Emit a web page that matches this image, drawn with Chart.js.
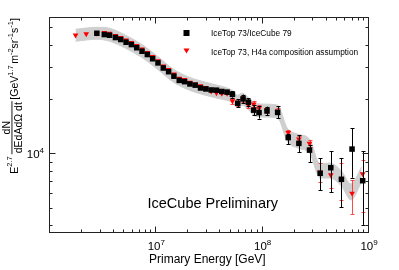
<!DOCTYPE html>
<html>
<head>
<meta charset="utf-8">
<script src="https://cdn.jsdelivr.net/npm/chart.js@4.4.1/dist/chart.umd.min.js"></script>
<style>
  html, body { margin: 0; padding: 0; background: #fff; }
  #wrap { width: 399px; height: 270px; }
</style>
</head>
<body>
<div id="wrap"><canvas id="myChart" width="399" height="270"></canvas></div>
<script>
	// IceTop 73/IceCube 79 : bin centres, log10(E/GeV)
	var binLogE = [6.45, 6.52, 6.57, 6.625, 6.675, 6.725, 6.775, 6.825, 6.875, 6.925,
		6.975, 7.025, 7.075, 7.125, 7.175, 7.225, 7.275, 7.325, 7.375, 7.425,
		7.475, 7.525, 7.575, 7.625, 7.675, 7.725, 7.775, 7.825, 7.875, 7.925,
		7.975, 8.05, 8.15, 8.25, 8.35, 8.45, 8.55, 8.65, 8.75, 8.85, 8.95];

	// E^2.7 flux, black squares
	var fluxIT73 = [46200, 45460, 45050, 43750, 42660, 41210, 40000, 38420, 36730, 35240,
		33400, 31670, 29680, 28310, 26730, 25340, 24930, 24210, 23850, 23010,
		22720, 22430, 22370, 22000, 21820, 21210, 18920, 20010, 19210, 17350,
		16810, 17170, 16850, 12230, 11360, 10420, 7757, 8327, 7185, 10560, 7057];
	var errUpIT73 = [0, 0, 0, 0, 0, 0, 0, 0, 0, 0, 0, 0, 0, 0, 0, 200, 200, 250, 250, 300,
		300, 300, 350, 350, 400, 880, 1030, 1120, 1000, 1130, 1450, 970, 1410, 550, 1210,
		690, 1620, 1970, 2200, 3180, 3240];
	var errDnIT73 = [0, 0, 0, 0, 0, 0, 0, 0, 0, 0, 0, 0, 0, 0, 0, 200, 200, 250, 250, 300,
		300, 300, 350, 350, 400, 870, 890, 1050, 950, 1070, 1240, 890, 1180, 970, 1230,
		1470, 1490, 2240, 2160, 3230, 3040];

	// IceTop 73, H4a composition assumption : red triangles
	var h4aLogE = [6.25, 6.35, 6.45, 6.52, 6.57, 6.625, 6.675, 6.725, 6.775, 6.825, 6.875,
		6.925, 6.975, 7.025, 7.075, 7.125, 7.175, 7.225, 7.275, 7.325, 7.375, 7.425,
		7.475, 7.525, 7.575, 7.625, 7.675, 7.725, 7.775, 7.825, 7.875, 7.925, 7.975,
		8.05, 8.15, 8.25, 8.35, 8.45, 8.55, 8.65, 8.75, 8.85, 8.95];
	var fluxH4a = [45040, 45800, 46200, 46620, 46200, 44870, 43750, 42270, 41050, 39410,
		37700, 36140, 34250, 32480, 30430, 29040, 27420, 25990, 25570, 24680, 24150,
		23630, 23090, 22090, 21620, 21450, 21450, 19530, 19130, 19950, 18480, 18720,
		17730, 17350, 17130, 13000, 12000, 11360, 7880, 7590, 7120, 6010, 7685];
	var errUpH4a = [0, 0, 0, 0, 0, 0, 0, 0, 0, 0, 0, 0, 0, 0, 0, 0, 0, 0, 0, 0, 0, 0, 0, 0, 0, 0, 0,
		770, 770, 750, 720, 780, 770, 650, 670, 450, 460, 480, 930, 840, 1720, 1110, 1495];
	var errDnH4a = [0, 0, 0, 0, 0, 0, 0, 0, 0, 0, 0, 0, 0, 0, 0, 0, 0, 0, 0, 0, 0, 0, 0, 0, 0, 0, 0,
		730, 730, 750, 680, 720, 730, 650, 630, 460, 460, 530, 910, 1180, 1600, 1390, 2925];

	// systematic band (grey)
	var bandLogE = [6.25, 6.45, 6.57, 6.72, 6.87, 7.02, 7.17, 7.32, 7.47, 7.62, 7.72, 7.77,
		7.82, 7.87, 7.94, 8.04, 8.15, 8.24, 8.34, 8.45, 8.55, 8.64, 8.75, 8.84, 8.94];
	var bandHi = [48610, 49870, 49240, 45040, 40180, 34480, 29230, 26390, 24770, 23540, 22370,
		20990, 21540, 20460, 18960, 18720, 18480, 13800, 12780, 12000, 8730, 8840, 7990, 6770, 8400];
	var bandLo = [41730, 42810, 41730, 38180, 34040, 29230, 24770, 22370, 20990, 19950, 19210,
		18030, 18480, 17570, 16070, 15870, 15670, 11690, 10700, 10040, 7300, 7300, 6600, 5520, 6940];

	// axes
	var xTicks = [1e6, 2e6, 3e6, 4e6, 5e6, 6e6, 7e6, 8e6, 9e6, 1e7, 2e7, 3e7, 4e7, 5e7, 6e7, 7e7,
		8e7, 9e7, 1e8, 2e8, 3e8, 4e8, 5e8, 6e8, 7e8, 8e8, 9e8, 1e9];
	var xMajor = [1e6, 1e7, 1e8, 1e9];
	var xLabels = [1e7, 1e8, 1e9];
	var xLabelExp = ['7', '8', '9'];
	var yTicks = [4000, 5000, 6000, 7000, 8000, 9000, 1e4, 2e4, 3e4, 4e4, 5e4];
	var yMajor = [1e4];
	var yLabels = [1e4];
	var yLabelExp = ['4'];

	var legendTexts = ['IceTop 73/IceCube 79', 'IceTop 73, H4a composition assumption'];

	var FONT = '"Liberation Sans", Arial, Helvetica, sans-serif';

	function toPoints(logs, vals) {
		return logs.map((l, i) => ({ x: Math.pow(10, l), y: vals[i] }));
	}

	// draw a row of text pieces (superscripts have dy)
	function drawParts(ctx, parts, u, v) {
		parts.forEach(p => {
			ctx.font = p.f + 'px ' + FONT;
			ctx.fillText(p.t, u, v + (p.dy || 0));
			u += ctx.measureText(p.t).width + (p.gap || 0);
		});
		return u;
	}
	function partsWidth(ctx, parts) {
		let w = 0;
		parts.forEach(p => { ctx.font = p.f + 'px ' + FONT; w += ctx.measureText(p.t).width + (p.gap || 0); });
		return w;
	}

	function drawErrors(chart, logs, vals, up, dn, color) {
		const ctx = chart.ctx;
		const xs = chart.scales.x, ys = chart.scales.y;
		ctx.save();
		ctx.strokeStyle = color;
		ctx.lineWidth = 1;
		for (let i = 0; i < vals.length; i++) {
			if (!up[i] && !dn[i]) continue;
			const px = Math.round(xs.getPixelForValue(Math.pow(10, logs[i]))) + 0.5;
			const y1 = ys.getPixelForValue(vals[i] + up[i]);
			const y2 = ys.getPixelForValue(vals[i] - dn[i]);
			ctx.beginPath();
			ctx.moveTo(px, y1); ctx.lineTo(px, y2);
			ctx.moveTo(px - 2, Math.round(y1) + 0.5); ctx.lineTo(px + 2, Math.round(y1) + 0.5);
			ctx.moveTo(px - 2, Math.round(y2) + 0.5); ctx.lineTo(px + 2, Math.round(y2) + 0.5);
			ctx.stroke();
		}
		ctx.restore();
	}

	var rootStyle = {
		id: 'rootStyle',
		beforeDatasetDraw(chart, args) {
			if (args.index === 0) drawErrors(chart, binLogE, fluxIT73, errUpIT73, errDnIT73, '#000');
			if (args.index === 1) drawErrors(chart, h4aLogE, fluxH4a, errUpH4a, errDnH4a, 'rgba(255,40,40,0.85)');
		},
		afterDraw(chart) {
			const ctx = chart.ctx;
			const a = chart.chartArea;
			const xs = chart.scales.x, ys = chart.scales.y;
			const L = Math.round(a.left) + 0.5, R = Math.round(a.right) + 0.5;
			const T = Math.round(a.top) + 0.5, B = Math.round(a.bottom) + 0.5;
			ctx.save();
			ctx.strokeStyle = '#222';
			ctx.lineWidth = 1;
			ctx.strokeRect(L, T, R - L, B - T);

			// tick marks inside the frame, on all four sides
			ctx.beginPath();
			xTicks.forEach(v => {
				const px = Math.round(xs.getPixelForValue(v)) + 0.5;
				const len = xMajor.includes(v) ? 6 : 3;
				ctx.moveTo(px, B); ctx.lineTo(px, B - len);
				ctx.moveTo(px, T); ctx.lineTo(px, T + len);
			});
			yTicks.forEach(v => {
				const py = Math.round(ys.getPixelForValue(v)) + 0.5;
				const len = yMajor.includes(v) ? 6 : 3;
				ctx.moveTo(L, py); ctx.lineTo(L + len, py);
				ctx.moveTo(R, py); ctx.lineTo(R - len, py);
			});
			ctx.stroke();

			ctx.fillStyle = '#000';
			ctx.textBaseline = 'alphabetic';
			ctx.textAlign = 'left';

			// x labels 10^n
			xLabels.forEach((v, i) => {
				const parts = [{ t: '10', f: 11.5 }, { t: xLabelExp[i], f: 8, dy: -5 }];
				const w = partsWidth(ctx, parts);
				drawParts(ctx, parts, xs.getPixelForValue(v) - w / 2 + 1, 250);
			});
			// y labels 10^n
			yLabels.forEach((v, i) => {
				const parts = [{ t: '10', f: 11.5 }, { t: yLabelExp[i], f: 8, dy: -5 }];
				const w = partsWidth(ctx, parts);
				drawParts(ctx, parts, a.left - 5 - w, ys.getPixelForValue(v) + 4.5);
			});

			// x title
			ctx.font = '12px ' + FONT;
			ctx.fillText('Primary Energy [GeV]', 149, 263);

			// y title, rotated
			ctx.save();
			ctx.translate(17.5, 174);
			ctx.rotate(-Math.PI / 2);
			let u = drawParts(ctx, [{ t: 'E', f: 11 }, { t: '2.7', f: 7.5, dy: -5.5, gap: 2 }], 0, 0);
			ctx.font = '10.5px ' + FONT;
			const num = 'dN', den = 'dEdAd\u03A9 dt';
			const wn = ctx.measureText(num).width, wd = ctx.measureText(den).width;
			const wf = Math.max(wn, wd) + 2;
			ctx.fillText(num, u + (wf - wn) / 2, -8);
			ctx.fillText(den, u + (wf - wd) / 2, 4.5);
			ctx.fillRect(u, -6, wf, 0.9);
			u += wf + 1.5;
			drawParts(ctx, [
				{ t: '[GeV', f: 10.5 }, { t: '1.7', f: 7.5, dy: -5, gap: 1.5 },
				{ t: 'm', f: 10.5 }, { t: '-2', f: 7.5, dy: -5 },
				{ t: 'sr', f: 10.5 }, { t: '-1', f: 7.5, dy: -5 },
				{ t: 's', f: 10.5 }, { t: '-1', f: 7.5, dy: -5 },
				{ t: ']', f: 10.5 }
			], u, 0);
			ctx.restore();

			// legend
			const lx = 186.5;
			ctx.fillStyle = '#000';
			ctx.fillRect(lx - 3, 30, 6, 6);
			ctx.fillStyle = '#ff0000';
			ctx.beginPath();
			ctx.moveTo(lx - 3, 48.5); ctx.lineTo(lx + 3, 48.5); ctx.lineTo(lx, 53.5); ctx.closePath();
			ctx.fill();
			ctx.fillStyle = '#000';
			ctx.font = '8.3px ' + FONT;
			ctx.fillText(legendTexts[0], 211, 36);
			ctx.fillText(legendTexts[1], 211, 54.5);

			ctx.font = '14.5px ' + FONT;
			ctx.fillText('IceCube Preliminary', 147.5, 208);
			ctx.restore();
		}
	};

	var data = {
		datasets: [{
			label: legendTexts[0],
			data: toPoints(binLogE, fluxIT73),
			showLine: false,
			pointStyle: 'rect',
			pointRadius: 3.9,
			pointBorderWidth: 0,
			backgroundColor: '#000',
			borderColor: '#000',
			order: 0
		}, {
			label: legendTexts[1],
			data: toPoints(h4aLogE, fluxH4a),
			showLine: false,
			pointStyle: 'triangle',
			rotation: 180,
			pointRadius: 3.3,
			pointBorderWidth: 0,
			backgroundColor: '#ff0000',
			borderColor: '#ff0000',
			order: 1
		}, {
			label: 'sys hi',
			data: toPoints(bandLogE, bandHi),
			pointRadius: 0,
			borderWidth: 1,
			borderColor: '#cfcfcf',
			cubicInterpolationMode: 'monotone',
			fill: false,
			order: 3
		}, {
			label: 'sys lo',
			data: toPoints(bandLogE, bandLo),
			pointRadius: 0,
			borderWidth: 1,
			borderColor: '#cfcfcf',
			backgroundColor: '#cfcfcf',
			cubicInterpolationMode: 'monotone',
			fill: '-1',
			order: 2
		}]
	};

	var options = {
		responsive: false,
		animation: false,
		events: [],
		layout: { padding: { left: 49, right: 31, top: 17, bottom: 38 } },
		plugins: { legend: { display: false }, tooltip: { enabled: false } },
		scales: {
			x: { type: 'logarithmic', min: 1e6, max: 1e9, display: false },
			y: { type: 'logarithmic', min: 3670, max: 56850, display: false }
		}
	};

	var ctx = document.getElementById('myChart').getContext('2d');
	var myChart = new Chart(ctx, {
		type: 'line',
		data: data,
		options: options,
		plugins: [rootStyle]
	});
</script>
</body>
</html>
